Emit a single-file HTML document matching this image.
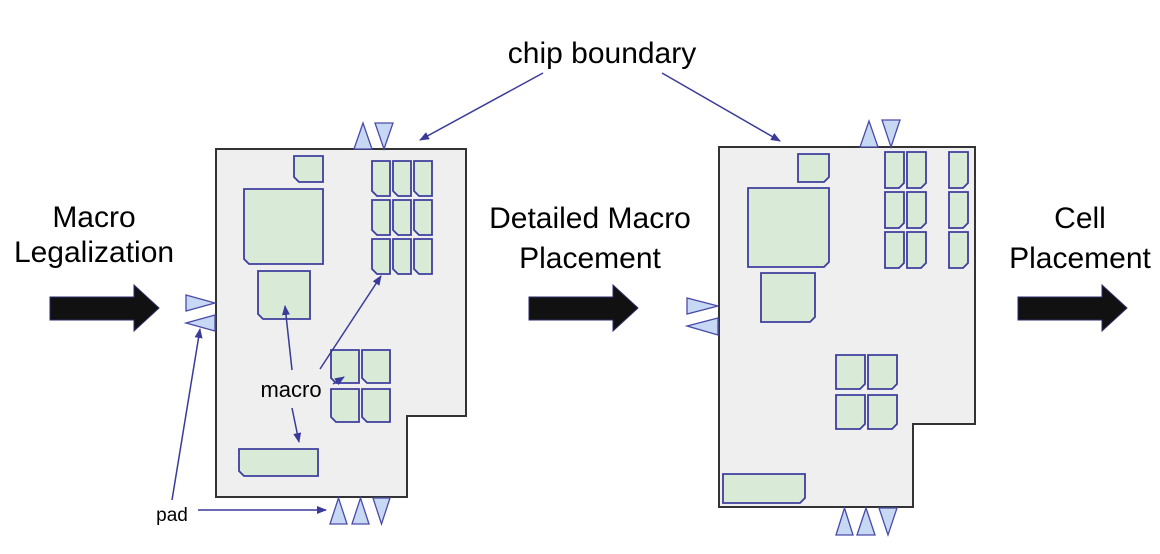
<!DOCTYPE html>
<html><head><meta charset="utf-8"><style>
html,body{margin:0;padding:0;background:#fff;}
svg{display:block;}
text{font-family:"Liberation Sans",Arial,sans-serif;fill:#000;}
</style></head><body>
<svg id="s" width="1160" height="554" viewBox="0 0 1160 554" xmlns="http://www.w3.org/2000/svg">
<defs>
<marker id="ah" markerWidth="10" markerHeight="8" refX="9" refY="4" orient="auto" markerUnits="userSpaceOnUse">
<path d="M0,0 L10,4 L0,8 Z" fill="#3a3a9a"/></marker>
</defs>
<path d="M216,149 H466 V416 H407 V497 H216 Z" fill="#efefef" stroke="#333" stroke-width="2"/>
<path d="M719,147 H975 V424 H913 V507 H719 Z" fill="#efefef" stroke="#333" stroke-width="2"/>
<g id="m"></g>
<path d="M50,297 H134 V285 L159,308 L134,331 V320 H50 Z" fill="#111" stroke="#2a2a6a" stroke-width="1"/>
<path d="M529,297 H613 V285 L638,308 L613,331 V320 H529 Z" fill="#111" stroke="#2a2a6a" stroke-width="1"/>
<path d="M1018,297 H1102 V285 L1127,308 L1102,331 V320 H1018 Z" fill="#111" stroke="#2a2a6a" stroke-width="1"/>
<text x="94" y="227" font-size="30" text-anchor="middle">Macro</text>
<text x="94" y="262" font-size="30" text-anchor="middle">Legalization</text>
<text x="590" y="228" font-size="30" text-anchor="middle">Detailed Macro</text>
<text x="590" y="268" font-size="30" text-anchor="middle">Placement</text>
<text x="1080" y="228" font-size="30" text-anchor="middle">Cell</text>
<text x="1080" y="268" font-size="30" text-anchor="middle">Placement</text>
<text x="602" y="63" font-size="30" text-anchor="middle">chip boundary</text>
<text x="291" y="397" font-size="22" text-anchor="middle">macro</text>
<text x="172" y="521" font-size="19" text-anchor="middle">pad</text>
<g stroke="#3a3a9a" stroke-width="1.5" fill="none" marker-end="url(#ah)">
<line x1="543" y1="73" x2="420" y2="140"/>
<line x1="662" y1="73" x2="780" y2="141"/>
<line x1="292" y1="370" x2="285" y2="306"/>
<line x1="320" y1="369" x2="381" y2="276"/>
<line x1="333" y1="384" x2="344" y2="377"/>
<line x1="292" y1="408" x2="299" y2="442"/>
<line x1="198" y1="510" x2="326" y2="510"/>
<line x1="172" y1="500" x2="200" y2="329"/>
</g>
</svg>
<script>
var g=document.getElementById('m'),NS='http://www.w3.org/2000/svg';
function add(tag,a){var e=document.createElementNS(NS,tag);for(var k in a)e.setAttribute(k,a[k]);g.appendChild(e);}
var st={fill:'#d9ead6',stroke:'#3e3e9e','stroke-width':'1.8'};
function mac(x,y,w,h,side){var c=5,p;
 if(side=='L')p=[x,y,x+w,y,x+w,y+h,x+c,y+h,x,y+h-c];else p=[x,y,x+w,y,x+w,y+h-c,x+w-c,y+h,x,y+h];
 add('polygon',Object.assign({points:p.join(',')},st));}
mac(294,156,29,26,'L');mac(244,189,79,75,'L');mac(258,271,52,48,'L');
[372,393,414].forEach(function(x){[161,200,239].forEach(function(y){mac(x,y,18,35,'L');});});
[331,362].forEach(function(x){[350,389].forEach(function(y){mac(x,y,28,33,'L');});});
mac(239,449,79,27,'L');
mac(798,154,31,28,'R');mac(748,188,81,79,'R');mac(761,273,54,49,'R');
[885,907,949].forEach(function(x){[152,192,232].forEach(function(y){mac(x,y,19,36,'R');});});
[836,868].forEach(function(x){[355,395].forEach(function(y){mac(x,y,29,34,'R');});});
mac(723,474,82,29,'R');
var ps={fill:'#c6d8f4',stroke:'#4a4aa8','stroke-width':'1.3'};
function tri(p){add('polygon',Object.assign({points:p.join(',')},ps));}
function up(x,y0,y1,w){tri([x,y1,x+w/2,y0,x+w,y1]);}
function dn(x,y0,y1,w){tri([x,y0,x+w,y0,x+w/2,y1]);}
up(354,123,149,18);dn(375,123,149,18);
tri([186,295,215,303,186,311]);tri([215,315,215,331,186,323]);
up(330,498,524,17);up(352,498,524,17);dn(373,498,524,17);
up(860,121,147,18);dn(882,120,147,18);
tri([687,298,718,306,687,314]);tri([718,318,718,335,687,326]);
up(836,508,535,17);up(857,508,535,18);dn(879,508,535,18);
</script>
</body></html>
